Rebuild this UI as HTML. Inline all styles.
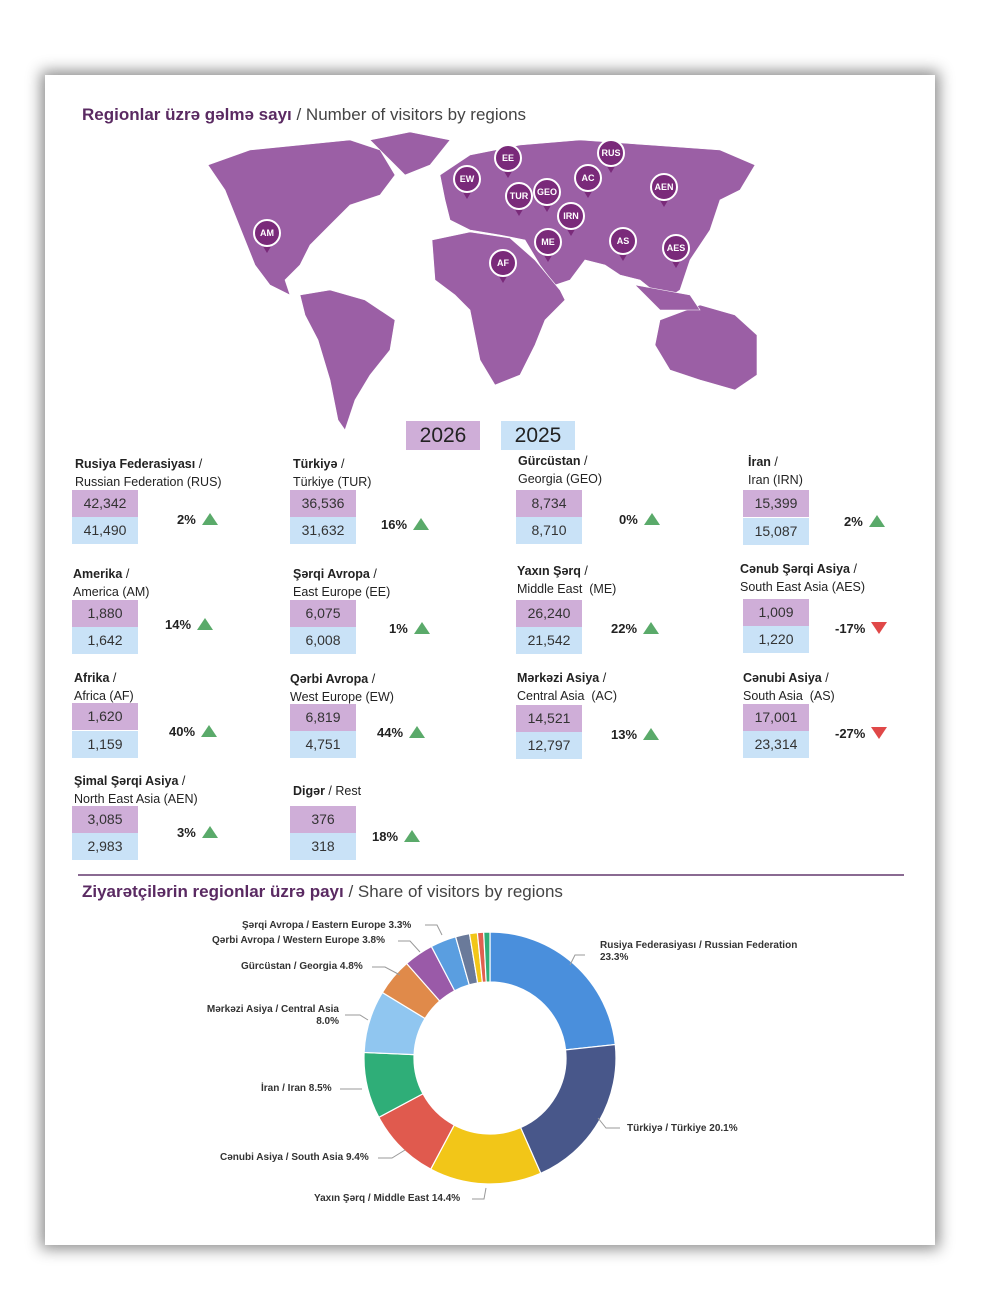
<!DOCTYPE html>
<html><head><meta charset="utf-8"><style>
body{margin:0;width:1000px;height:1316px;background:#fff;font-family:"Liberation Sans",sans-serif;position:relative;overflow:hidden}
.card{position:absolute;left:45px;top:75px;width:890px;height:1170px;background:#fff;box-shadow:0 0 14px 4px rgba(0,0,0,0.45)}
.t{position:absolute;font-size:17px;color:#444}
.t b{color:#5a2a62}
.it{position:absolute;font-size:12.5px;color:#222;line-height:18px}
.it b{font-weight:bold}
.bx{position:absolute;width:66px;height:27px;font-size:14px;color:#333;text-align:center;line-height:27px}
.p{background:#cfaed8}.bl{background:#c9e2f7}
.pc{position:absolute;font-size:13px;font-weight:bold;color:#222}
.up{display:inline-block;width:0;height:0;border-left:8px solid transparent;border-right:8px solid transparent;border-bottom:12px solid #5aaa6a;margin-left:6px;vertical-align:-1px}
.dn{display:inline-block;width:0;height:0;border-left:8px solid transparent;border-right:8px solid transparent;border-top:12px solid #e04848;margin-left:6px;vertical-align:-1px}
.yr{position:absolute;top:421px;width:74px;height:29px;font-size:21px;text-align:center;line-height:29px;color:#222}
.lb{position:absolute;font-size:10px;font-weight:bold;color:#333;line-height:12px}
</style></head><body>
<div class="card"></div>
<div class="t" style="left:82px;top:105px"><b>Regionlar üzrə gəlmə sayı</b> / Number of visitors by regions</div>
<svg style="position:absolute;left:0;top:0" width="1000" height="450">
<g fill="#9b5fa5" stroke="#fff" stroke-width="0.6">
<path d="M208,165 L250,150 L300,145 L350,140 L380,150 L395,175 L380,195 L350,205 L330,225 L310,245 L300,265 L285,280 L290,295 L270,285 L255,265 L245,240 L235,215 L225,190 Z"/>
<path d="M370,140 L410,132 L450,140 L430,165 L405,175 L390,160 Z"/>
<path d="M300,295 L330,290 L365,300 L395,320 L390,350 L370,375 L355,400 L345,430 L338,420 L330,380 L318,340 L305,315 Z"/>
<path d="M440,175 L470,155 L520,145 L580,140 L650,145 L720,150 L755,165 L740,190 L720,200 L710,230 L690,260 L680,290 L665,300 L640,280 L620,275 L605,265 L585,260 L570,280 L555,285 L540,265 L525,240 L500,235 L470,230 L450,220 L445,200 Z"/>
<path d="M432,240 L470,232 L510,238 L535,260 L560,290 L565,300 L545,320 L535,345 L520,375 L495,385 L480,360 L470,310 L455,295 L435,280 Z"/>
<path d="M660,320 L700,305 L735,315 L757,335 L757,375 L735,390 L700,380 L670,370 L655,345 Z"/>
<path d="M635,285 L690,295 L700,310 L660,310 Z"/>
</g>
<g font-family="Liberation Sans" font-size="9" font-weight="bold" fill="#fff" text-anchor="middle">
<g transform="translate(508,158)"><path d="M-6,10 L0,20 L6,10Z" fill="#7a2a7a"/><circle r="13" fill="#7a2a7a" stroke="#fff" stroke-width="2"/><text y="3">EE</text></g>
<g transform="translate(611,153)"><path d="M-6,10 L0,20 L6,10Z" fill="#7a2a7a"/><circle r="13" fill="#7a2a7a" stroke="#fff" stroke-width="2"/><text y="3">RUS</text></g>
<g transform="translate(467,179)"><path d="M-6,10 L0,20 L6,10Z" fill="#7a2a7a"/><circle r="13" fill="#7a2a7a" stroke="#fff" stroke-width="2"/><text y="3">EW</text></g>
<g transform="translate(519,196)"><path d="M-6,10 L0,20 L6,10Z" fill="#7a2a7a"/><circle r="13" fill="#7a2a7a" stroke="#fff" stroke-width="2"/><text y="3">TUR</text></g>
<g transform="translate(547,192)"><path d="M-6,10 L0,20 L6,10Z" fill="#7a2a7a"/><circle r="13" fill="#7a2a7a" stroke="#fff" stroke-width="2"/><text y="3">GEO</text></g>
<g transform="translate(588,178)"><path d="M-6,10 L0,20 L6,10Z" fill="#7a2a7a"/><circle r="13" fill="#7a2a7a" stroke="#fff" stroke-width="2"/><text y="3">AC</text></g>
<g transform="translate(664,187)"><path d="M-6,10 L0,20 L6,10Z" fill="#7a2a7a"/><circle r="13" fill="#7a2a7a" stroke="#fff" stroke-width="2"/><text y="3">AEN</text></g>
<g transform="translate(571,216)"><path d="M-6,10 L0,20 L6,10Z" fill="#7a2a7a"/><circle r="13" fill="#7a2a7a" stroke="#fff" stroke-width="2"/><text y="3">IRN</text></g>
<g transform="translate(548,242)"><path d="M-6,10 L0,20 L6,10Z" fill="#7a2a7a"/><circle r="13" fill="#7a2a7a" stroke="#fff" stroke-width="2"/><text y="3">ME</text></g>
<g transform="translate(623,241)"><path d="M-6,10 L0,20 L6,10Z" fill="#7a2a7a"/><circle r="13" fill="#7a2a7a" stroke="#fff" stroke-width="2"/><text y="3">AS</text></g>
<g transform="translate(676,248)"><path d="M-6,10 L0,20 L6,10Z" fill="#7a2a7a"/><circle r="13" fill="#7a2a7a" stroke="#fff" stroke-width="2"/><text y="3">AES</text></g>
<g transform="translate(503,263)"><path d="M-6,10 L0,20 L6,10Z" fill="#7a2a7a"/><circle r="13" fill="#7a2a7a" stroke="#fff" stroke-width="2"/><text y="3">AF</text></g>
<g transform="translate(267,233)"><path d="M-6,10 L0,20 L6,10Z" fill="#7a2a7a"/><circle r="13" fill="#7a2a7a" stroke="#fff" stroke-width="2"/><text y="3">AM</text></g>
</g></svg>
<div class="yr" style="left:406px;background:#cfaed8">2026</div>
<div class="yr" style="left:501px;background:#c9e2f7">2025</div>

<!-- row1 -->
<div class="it" style="left:75px;top:455px"><b>Rusiya Federasiyası</b> /<br>Russian Federation (RUS)</div>
<div class="bx p" style="left:72px;top:490px">42,342</div><div class="bx bl" style="left:72px;top:517px">41,490</div>
<div class="pc" style="left:177px;top:512px">2%<span class="up"></span></div>
<div class="it" style="left:293px;top:455px"><b>Türkiyə</b> /<br>Türkiye (TUR)</div>
<div class="bx p" style="left:290px;top:490px">36,536</div><div class="bx bl" style="left:290px;top:517px">31,632</div>
<div class="pc" style="left:381px;top:517px">16%<span class="up"></span></div>
<div class="it" style="left:518px;top:452px"><b>Gürcüstan</b> /<br>Georgia (GEO)</div>
<div class="bx p" style="left:516px;top:490px">8,734</div><div class="bx bl" style="left:516px;top:517px">8,710</div>
<div class="pc" style="left:619px;top:512px">0%<span class="up"></span></div>
<div class="it" style="left:748px;top:453px"><b>İran</b> /<br>Iran (IRN)</div>
<div class="bx p" style="left:743px;top:490px">15,399</div><div class="bx bl" style="left:743px;top:518px">15,087</div>
<div class="pc" style="left:844px;top:514px">2%<span class="up"></span></div>
<!-- row2 -->
<div class="it" style="left:73px;top:565px"><b>Amerika</b> /<br>America (AM)</div>
<div class="bx p" style="left:72px;top:600px">1,880</div><div class="bx bl" style="left:72px;top:627px">1,642</div>
<div class="pc" style="left:165px;top:617px">14%<span class="up"></span></div>
<div class="it" style="left:293px;top:565px"><b>Şərqi Avropa</b> /<br>East Europe (EE)</div>
<div class="bx p" style="left:290px;top:600px">6,075</div><div class="bx bl" style="left:290px;top:627px">6,008</div>
<div class="pc" style="left:389px;top:621px">1%<span class="up"></span></div>
<div class="it" style="left:517px;top:562px"><b>Yaxın Şərq</b> /<br>Middle East &nbsp;(ME)</div>
<div class="bx p" style="left:516px;top:600px">26,240</div><div class="bx bl" style="left:516px;top:627px">21,542</div>
<div class="pc" style="left:611px;top:621px">22%<span class="up"></span></div>
<div class="it" style="left:740px;top:560px"><b>Cənub Şərqi Asiya</b> /<br>South East Asia (AES)</div>
<div class="bx p" style="left:743px;top:599px">1,009</div><div class="bx bl" style="left:743px;top:626px">1,220</div>
<div class="pc" style="left:835px;top:621px">-17%<span class="dn"></span></div>
<!-- row3 -->
<div class="it" style="left:74px;top:669px"><b>Afrika</b> /<br>Africa (AF)</div>
<div class="bx p" style="left:72px;top:703px">1,620</div><div class="bx bl" style="left:72px;top:731px">1,159</div>
<div class="pc" style="left:169px;top:724px">40%<span class="up"></span></div>
<div class="it" style="left:290px;top:670px"><b>Qərbi Avropa</b> /<br>West Europe (EW)</div>
<div class="bx p" style="left:290px;top:704px">6,819</div><div class="bx bl" style="left:290px;top:731px">4,751</div>
<div class="pc" style="left:377px;top:725px">44%<span class="up"></span></div>
<div class="it" style="left:517px;top:669px"><b>Mərkəzi Asiya</b> /<br>Central Asia &nbsp;(AC)</div>
<div class="bx p" style="left:516px;top:705px">14,521</div><div class="bx bl" style="left:516px;top:732px">12,797</div>
<div class="pc" style="left:611px;top:727px">13%<span class="up"></span></div>
<div class="it" style="left:743px;top:669px"><b>Cənubi Asiya</b> /<br>South Asia &nbsp;(AS)</div>
<div class="bx p" style="left:743px;top:704px">17,001</div><div class="bx bl" style="left:743px;top:731px">23,314</div>
<div class="pc" style="left:835px;top:726px">-27%<span class="dn"></span></div>
<!-- row4 -->
<div class="it" style="left:74px;top:772px"><b>Şimal Şərqi Asiya</b> /<br>North East Asia (AEN)</div>
<div class="bx p" style="left:72px;top:806px">3,085</div><div class="bx bl" style="left:72px;top:833px">2,983</div>
<div class="pc" style="left:177px;top:825px">3%<span class="up"></span></div>
<div class="it" style="left:293px;top:782px"><b>Digər</b> / Rest</div>
<div class="bx p" style="left:290px;top:806px">376</div><div class="bx bl" style="left:290px;top:833px">318</div>
<div class="pc" style="left:372px;top:829px">18%<span class="up"></span></div>

<div style="position:absolute;left:78px;top:874px;width:826px;height:2px;background:#8a6a92"></div>
<div class="t" style="left:82px;top:882px"><b>Ziyarətçilərin regionlar üzrə payı</b> / Share of visitors by regions</div>

<svg style="position:absolute;left:0;top:0" width="1000" height="1316" id="d"></svg>
<script>
var cx=490,cy=1058,R=126,r=76;
var d=[[23.3,"#4a8fdc"],[20.1,"#48578a"],[14.4,"#f2c618"],[9.4,"#e05a4e"],[8.5,"#2fae78"],[8.0,"#90c6f0"],[4.8,"#e08a4a"],[3.8,"#9a5aa8"],[3.3,"#5a9ee0"],[1.8,"#6a7a9a"],[1.0,"#f2c618"],[0.8,"#e06050"],[0.8,"#2fae78"]];
var tot=0;d.forEach(x=>tot+=x[0]);var a=0,s="";
function pt(rr,t){return [cx+rr*Math.sin(t),cy-rr*Math.cos(t)]}
d.forEach(x=>{var t0=a/tot*2*Math.PI;a+=x[0];var t1=a/tot*2*Math.PI;var l=(t1-t0)>Math.PI?1:0;
var p1=pt(R,t0),p2=pt(R,t1),p3=pt(r,t1),p4=pt(r,t0);
s+='<path d="M'+p1+' A'+R+','+R+' 0 '+l+' 1 '+p2+' L'+p3+' A'+r+','+r+' 0 '+l+' 0 '+p4+'Z" fill="'+x[1]+'" stroke="#fff" stroke-width="1.2"/>';});
document.getElementById('d').innerHTML=s+'<g stroke="#999" fill="none"><path d="M425,925 L437,925 L442,935"/><path d="M398,941 L410,941 L420,952"/><path d="M372,967 L385,967 L400,975"/><path d="M345,1015 L360,1015 L368,1020"/><path d="M340,1089 L362,1089"/><path d="M378,1158 L392,1158 L405,1150"/><path d="M472,1199 L484,1199 L486,1188"/><path d="M585,955 L575,955 L570,965"/><path d="M620,1128 L606,1128 L598,1118"/></g>';
</script>
<div class="lb" style="left:242px;top:920px">Şərqi Avropa / Eastern Europe 3.3%</div>
<div class="lb" style="left:212px;top:935px">Qərbi Avropa / Western Europe 3.8%</div>
<div class="lb" style="left:241px;top:961px">Gürcüstan / Georgia 4.8%</div>
<div class="lb" style="left:197px;top:1004px;text-align:right;width:142px">Mərkəzi Asiya / Central Asia<br>8.0%</div>
<div class="lb" style="left:261px;top:1083px">İran / Iran 8.5%</div>
<div class="lb" style="left:220px;top:1152px">Cənubi Asiya / South Asia 9.4%</div>
<div class="lb" style="left:314px;top:1193px">Yaxın Şərq / Middle East 14.4%</div>
<div class="lb" style="left:600px;top:940px">Rusiya Federasiyası / Russian Federation<br>23.3%</div>
<div class="lb" style="left:627px;top:1123px">Türkiyə / Türkiye 20.1%</div>
</body></html>
